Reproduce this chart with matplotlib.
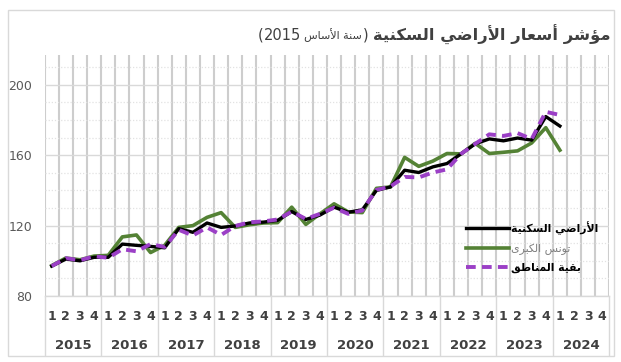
import re
import numpy as np
import matplotlib
matplotlib.use("Agg")
import matplotlib.pyplot as plt
from matplotlib.lines import Line2D
from matplotlib.patches import Rectangle

# quarterly index, base year 2015 (2015 Q1 .. 2024 Q1)
years = [str(y) for y in range(2015, 2025)]
quarters = ["1", "2", "3", "4"]

residential = [97, 101, 100, 102, 102, 109.5, 108.8, 108.2, 107.4, 118.3,
               116.2, 121.5, 119, 119.8, 121.5, 122, 123, 128, 123.5, 126,
               130.5, 127.6, 129, 140, 142, 151.5, 150.2, 153.4, 155.3, 160.8,
               166.5, 169.3, 168.2, 169.8, 168.6, 182, 176.6]
grand_tunis = [97.3, 101.6, 100.6, 102.7, 103.1, 113.6, 114.7, 104.7, 108.8, 119,
               120, 124.7, 127.4, 119, 120.5, 121.5, 121.7, 130.5, 120.7, 126.7,
               132.4, 127.8, 127.4, 141.2, 142, 158.8, 153.7, 156.7, 161, 160.8,
               166.8, 161, 161.7, 162.5, 167, 175.7, 162.9]
other_regions = [97, 101.5, 100.3, 102.6, 101.7, 106.6, 105.4, 109.5, 107.9, 117.6,
                 114.4, 119, 114.7, 119.8, 121.9, 122.4, 123.5, 128, 123.8, 126.7,
                 130.2, 126.7, 128.6, 140.3, 142.3, 147.7, 147.4, 150.2, 152, 160.8,
                 166.5, 171.9, 171, 172.6, 169.2, 184.7, 182.9]

title_main = "مؤشر أسعار الأراضي السكنية"
title_base = "سنة الأساس"
label_res = "الأراضي السكنية"
label_gt = "تونس الكبرى"
label_oth = "بقية المناطق"

# --- minimal arabic shaping (matplotlib does not shape RTL text) ---
FORMS = {
    "ا": ("\uFE8D", "\uFE8E", None, None),
    "أ": ("\uFE83", "\uFE84", None, None),
    "ؤ": ("\uFE85", "\uFE86", None, None),
    "ب": ("\uFE8F", "\uFE90", "\uFE91", "\uFE92"),
    "ة": ("\uFE93", "\uFE94", None, None),
    "ت": ("\uFE95", "\uFE96", "\uFE97", "\uFE98"),
    "ر": ("\uFEAD", "\uFEAE", None, None),
    "س": ("\uFEB1", "\uFEB2", "\uFEB3", "\uFEB4"),
    "ش": ("\uFEB5", "\uFEB6", "\uFEB7", "\uFEB8"),
    "ض": ("\uFEBD", "\uFEBE", "\uFEBF", "\uFEC0"),
    "ط": ("\uFEC1", "\uFEC2", "\uFEC3", "\uFEC4"),
    "ع": ("\uFEC9", "\uFECA", "\uFECB", "\uFECC"),
    "ق": ("\uFED5", "\uFED6", "\uFED7", "\uFED8"),
    "ك": ("\uFED9", "\uFEDA", "\uFEDB", "\uFEDC"),
    "ل": ("\uFEDD", "\uFEDE", "\uFEDF", "\uFEE0"),
    "م": ("\uFEE1", "\uFEE2", "\uFEE3", "\uFEE4"),
    "ن": ("\uFEE5", "\uFEE6", "\uFEE7", "\uFEE8"),
    "و": ("\uFEED", "\uFEEE", None, None),
    "ى": ("\uFEEF", "\uFEF0", None, None),
    "ي": ("\uFEF1", "\uFEF2", "\uFEF3", "\uFEF4"),
}
LAM_ALEF = {"ا": ("\uFEFB", "\uFEFC"), "أ": ("\uFEF7", "\uFEF8")}


def joins_next(c):
    return c in FORMS and FORMS[c][2] is not None


def shape(text):
    out = []
    i, n = 0, len(text)
    while i < n:
        c = text[i]
        if c not in FORMS:
            out.append(c)
            i += 1
            continue
        conn_prev = i > 0 and joins_next(text[i - 1])
        if c == "ل" and i + 1 < n and text[i + 1] in LAM_ALEF:
            iso, fin = LAM_ALEF[text[i + 1]]
            out.append(fin if conn_prev else iso)
            i += 2
            continue
        conn_next = joins_next(c) and i + 1 < n and text[i + 1] in FORMS
        iso, fin, ini, med = FORMS[c]
        if conn_prev and conn_next:
            out.append(med)
        elif conn_prev:
            out.append(fin)
        elif conn_next:
            out.append(ini)
        else:
            out.append(iso)
        i += 1
    return "".join(out)


def rtl(text):
    s = shape(text)[::-1]
    s = re.sub(r"[0-9]+", lambda m: m.group(0)[::-1], s)
    return s.translate(str.maketrans("()", ")("))


W, H = 621, 362
fig = plt.figure(figsize=(W / 100, H / 100), dpi=100)
plt.rcParams["font.family"] = ["DejaVu Sans"]


def px(x, y):
    return x / W, 1 - y / H


x0, x1, y_top, y_bot = 44.7, 609.3, 55, 296
ax = fig.add_axes([x0 / W, 1 - y_bot / H, (x1 - x0) / W, (y_bot - y_top) / H])

n_cat = len(years) * len(quarters)
x = np.arange(len(residential))

# grid
for k in range(n_cat + 1):
    ax.axvline(k - 0.5, color="#cdcdcd", lw=1.5, zorder=0)
for v in range(90, 220, 10):
    if v % 40:
        ax.axhline(v, color="#e2e2e2", lw=0.9, ls=(0, (1, 1.5)), zorder=0)
for v in [80, 120, 160, 200]:
    ax.axhline(v, color="#d9d9d9", lw=1.0, zorder=0)

ax.plot(x, grand_tunis, color="#548235", lw=2.6, zorder=3)
ax.plot(x, residential, color="#000000", lw=2.4, zorder=4)
ax.plot(x, other_regions, color="#9b3fc6", lw=2.8, dashes=(2.5, 1.6), zorder=5)

ax.set_xlim(-0.5, n_cat - 0.5)
ax.set_ylim(80, 217)
ax.set_yticks([80, 120, 160, 200])
ax.tick_params(axis="y", length=0, pad=9, labelsize=9, labelcolor="#595959")
ax.set_xticks([])
for s in ax.spines.values():
    s.set_visible(False)

# two-level category axis
tr = ax.get_xaxis_transform()
for k, yr in enumerate(years):
    for q, ql in enumerate(quarters):
        ax.text(4 * k + q, -0.083, ql, transform=tr, ha="center", va="center",
                fontsize=9, fontweight="bold", color="#404040")
    ax.text(4 * k + 1.5, -0.207, yr, transform=tr, ha="center", va="center",
            fontsize=9.5, fontweight="bold", color="#404040")
for k in range(len(years) + 1):
    ax.plot([4 * k - 0.5] * 2, [0, -0.245], transform=tr, color="#d9d9d9",
            lw=1, clip_on=False)
ax.plot([-0.5, n_cat - 0.5], [0, 0], transform=tr, color="#d9d9d9", lw=1,
        clip_on=False)

# legend
handles = [Line2D([], [], color="#000000", lw=2.4),
           Line2D([], [], color="#548235", lw=2.6),
           Line2D([], [], color="#9b3fc6", lw=2.8, dashes=(2.5, 1.6))]
leg = fig.legend(handles, [rtl(label_res), rtl(label_gt), rtl(label_oth)],
                 loc="upper left", bbox_to_anchor=px(462, 217), frameon=False,
                 fontsize=7.8, handlelength=3.9, handletextpad=0.25,
                 labelspacing=0.75, borderaxespad=0)
cols = ["#000000", "#7f7f7f", "#000000"]
for t, c in zip(leg.get_texts(), cols):
    t.set_color(c)
    t.set_fontweight("bold" if c == "#000000" else "normal")

# title, laid out right to left
renderer = fig.canvas.get_renderer()
pieces = [(rtl(title_main), 11.8, "bold", 5),
          (")", 10.5, "normal", 1),
          (rtl(title_base), 8, "normal", 3),
          ("2015", 10.5, "normal", 0),
          ("(", 10.5, "normal", 0)]
xr = 611
for txt, size, weight, gap in pieces:
    t = fig.text(xr / W, 1 - 35 / H, txt, ha="right", va="center",
                 fontsize=size, fontweight=weight, color="#404040")
    bb = t.get_window_extent(renderer)
    xr = bb.x0 - gap

# chart border
fig.patches.append(Rectangle(px(8, 356), (614 - 8) / W, (356 - 10) / H,
                             transform=fig.transFigure, fill=False,
                             edgecolor="#d9d9d9", lw=1))

fig.savefig("out.png", dpi=100)
